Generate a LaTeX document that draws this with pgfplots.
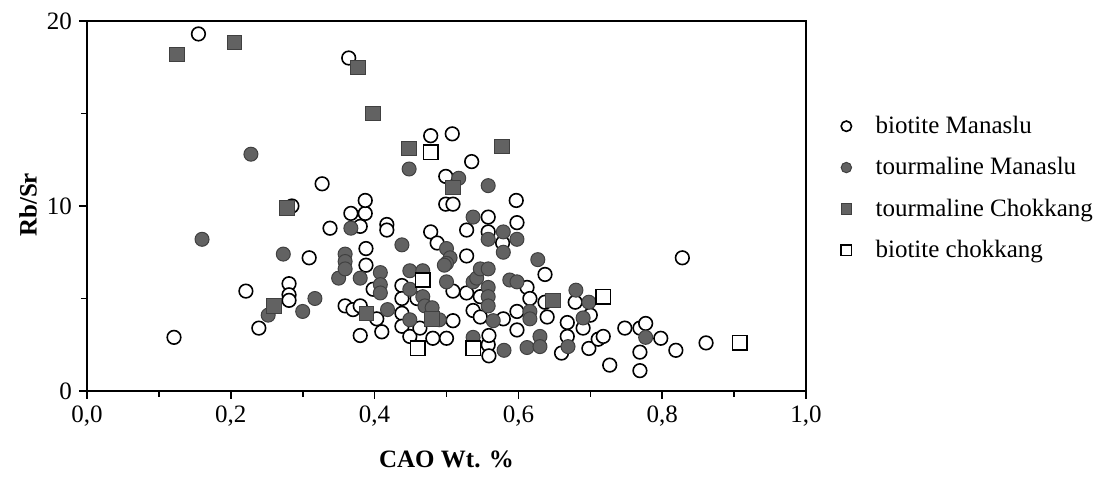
\documentclass[border=0pt]{standalone}
\usepackage{pgfplots}
\pgfplotsset{compat=1.18}
\usepackage{fontspec}
\setmainfont{Liberation Serif}
\newcommand\fs{\fontsize{12.5}{15}\selectfont}
\definecolor{fillgray}{RGB}{98,98,98}

\pgfplotstableread{
x y
0.121 2.9
0.155 19.3
0.221 5.4
0.239 3.4
0.281 5.8
0.281 5.2
0.281 4.9
0.285 10.0
0.309 7.2
0.327 11.2
0.338 8.8
0.364 18.0
0.367 9.6
0.387 9.6
0.387 10.3
0.380 8.9
0.388 7.7
0.388 6.8
0.417 9.0
0.417 8.7
0.359 4.6
0.370 4.4
0.380 4.6
0.380 3.0
0.398 5.5
0.403 3.9
0.410 3.2
0.438 5.7
0.438 5.0
0.438 4.2
0.438 3.5
0.449 2.95
0.459 5.0
0.463 3.4
0.478 13.8
0.478 8.6
0.487 8.0
0.481 2.85
0.499 11.6
0.499 10.1
0.508 13.9
0.509 10.1
0.509 5.4
0.509 3.8
0.500 2.85
0.528 8.7
0.528 7.3
0.528 5.3
0.535 12.4
0.537 4.35
0.547 5.1
0.547 4.0
0.558 9.4
0.558 8.6
0.558 2.5
0.559 3.0
0.559 1.9
0.578 8.0
0.579 3.9
0.597 10.3
0.598 9.1
0.598 4.3
0.598 3.3
0.612 5.6
0.616 5.0
0.637 6.3
0.637 4.8
0.640 4.0
0.660 2.05
0.668 3.7
0.668 2.95
0.679 4.8
0.690 3.4
0.700 4.1
0.698 2.3
0.711 2.8
0.718 2.95
0.727 1.4
0.748 3.4
0.769 3.4
0.777 3.65
0.769 2.1
0.769 1.1
0.798 2.85
0.819 2.2
0.828 7.2
0.861 2.6
}\biotiteManaslu

\pgfplotstableread{
x y
0.160 8.2
0.228 12.8
0.252 4.1
0.273 7.4
0.300 4.3
0.317 5.0
0.350 6.1
0.359 7.4
0.359 7.0
0.359 6.6
0.367 8.8
0.380 6.1
0.408 6.4
0.408 5.75
0.408 5.3
0.418 4.4
0.438 7.9
0.448 12.0
0.449 6.5
0.449 5.5
0.449 3.85
0.467 6.5
0.467 5.1
0.470 4.6
0.480 4.5
0.490 3.85
0.500 7.7
0.505 7.2
0.500 6.9
0.497 6.8
0.500 5.9
0.517 11.5
0.537 9.4
0.537 5.9
0.537 2.9
0.542 6.1
0.547 6.6
0.558 6.6
0.558 11.1
0.558 8.2
0.558 5.6
0.558 5.1
0.558 4.6
0.565 3.8
0.579 8.6
0.579 7.5
0.580 2.2
0.588 6.0
0.598 5.9
0.598 8.2
0.612 2.35
0.616 4.3
0.616 3.9
0.627 7.1
0.630 2.95
0.630 2.4
0.680 5.45
0.690 3.95
0.698 4.8
0.669 2.4
0.777 2.9
}\tourmalineManaslu

\pgfplotstableread{
x y
0.125 18.2
0.205 18.85
0.260 4.6
0.278 9.9
0.377 17.5
0.389 4.2
0.398 15.0
0.448 13.1
0.480 3.9
0.509 11.0
0.577 13.2
0.648 4.9
}\tourmalineChokkang

\pgfplotstableread{
x y
0.460 2.3
0.467 6.0
0.478 12.9
0.537 2.3
0.718 5.1
0.908 2.6
}\biotiteChokkang

\begin{document}
\begin{tikzpicture}[font=\fs]
\begin{axis}[
    scale only axis,
    width=359.5pt,
    height=185pt,
    xmin=0, xmax=1,
    ymin=0, ymax=20,
    xtick={0,0.2,...,1.0},
    minor xtick={0.1,0.3,0.5,0.7,0.9},
    ytick={0,10,20},
    minor ytick={5,15},
    tick align=outside,
    tick pos=left,
    major tick length=4pt,
    minor tick length=3pt,
    axis line style={line width=0.9pt},
    every tick/.style={line width=0.8pt, black},
    /pgf/number format/assume math mode=true,
    xticklabel style={/pgf/number format/.cd, use comma, fixed, fixed zerofill, precision=1},
    yticklabel style={/pgf/number format/.cd, fixed, precision=0},
    xlabel={\textbf{CAO Wt. \%}},
    ylabel={\textbf{Rb/Sr}},
    xlabel style={at={(axis description cs:0.5,-0.186)}, anchor=center},
    ylabel style={at={(axis description cs:-0.082,0.503)}, anchor=center},
    legend style={draw=none, at={(1.04,0.548)}, anchor=west, fill=none,
        row sep=6.5pt, font=\fs},
    legend cell align=left,
    /pgfplots/legend image post style={mark size=2.6pt},
]
\addplot[only marks, mark=*, mark size=3.4pt,
    mark options={fill=white, draw=black, line width=0.8pt}]
    table {\biotiteManaslu};
\addlegendentry{\hspace{10pt}biotite Manaslu}
\addplot[only marks, mark=*, mark size=3.5pt,
    mark options={fill=fillgray, draw=black!75, line width=0.5pt}]
    table {\tourmalineManaslu};
\addlegendentry{\hspace{10pt}tourmaline Manaslu}
\addplot[only marks, mark=square*, mark size=3.6pt,
    mark options={fill=fillgray, draw=black!75, line width=0.5pt}]
    table {\tourmalineChokkang};
\addlegendentry{\hspace{10pt}tourmaline Chokkang}
\addplot[only marks, mark=square*, mark size=3.6pt,
    mark options={fill=white, draw=black, line width=0.8pt}]
    table {\biotiteChokkang};
\addlegendentry{\hspace{10pt}biotite chokkang}
\end{axis}
\pgfresetboundingbox
\path[use as bounding box] (-43.5pt,-45pt) rectangle (508pt,195.5pt);
\end{tikzpicture}
\end{document}
